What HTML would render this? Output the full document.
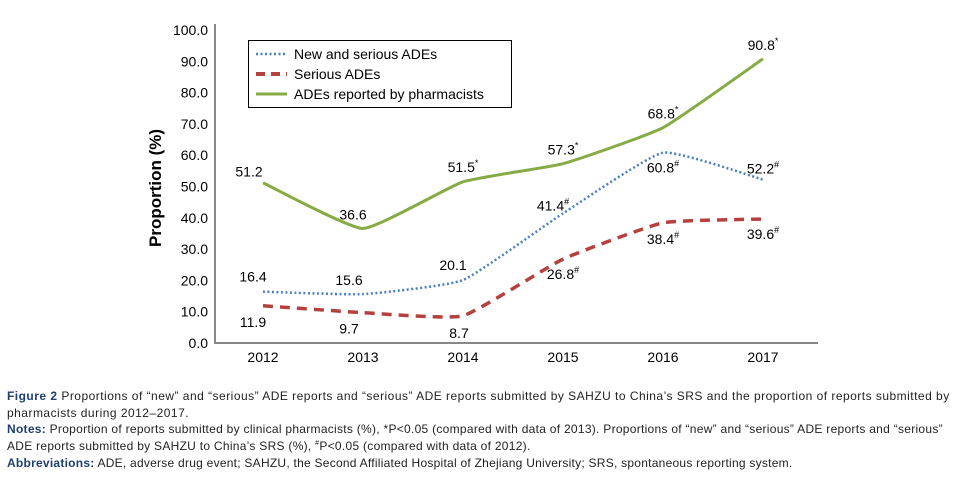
<!DOCTYPE html>
<html><head><meta charset="utf-8"><style>
body{margin:0;background:#fff;width:960px;height:478px;overflow:hidden;font-family:"Liberation Sans",sans-serif}
.cap{position:absolute;left:7px;width:950px;font-size:12px;color:#222;line-height:16.5px;white-space:nowrap;font-family:"Liberation Sans",sans-serif;letter-spacing:0.48px}
.cap b{color:#1f3f70;font-weight:bold}
</style></head><body>
<svg width="960" height="380" style="position:absolute;left:0;top:0" font-family="Liberation Sans, sans-serif">
<g id="axes"></g><g id="series"></g><g id="labels"></g>
<text transform="translate(161,188) rotate(-90)" text-anchor="middle" font-size="17" font-weight="bold" fill="#000">Proportion (%)</text>
<g>
<rect x="248.5" y="40.5" width="263" height="67" fill="#fff" stroke="#000" stroke-width="1"/>
<line x1="256" y1="54" x2="287" y2="54" stroke="#4a7fc0" stroke-width="2.5" stroke-dasharray="2,2.5"/>
<text x="294" y="59" font-size="14">New and serious ADEs</text>
<line x1="256" y1="74" x2="287" y2="74" stroke="#b5413f" stroke-width="4" stroke-dasharray="9,6"/>
<text x="294" y="79" font-size="14">Serious ADEs</text>
<line x1="256" y1="94" x2="287" y2="94" stroke="#86ab45" stroke-width="3"/>
<text x="294" y="99" font-size="14">ADEs reported by pharmacists</text>
</g>
</svg>
<div class="cap" style="top:388px"><b>Figure 2</b> Proportions of “new” and “serious” ADE reports and “serious” ADE reports submitted by SAHZU to China’s SRS and the proportion of reports submitted by<br>pharmacists during 2012–2017.</div>
<div class="cap" style="top:421px;letter-spacing:0.28px"><b>Notes:</b> Proportion of reports submitted by clinical pharmacists (%), *P&lt;0.05 (compared with data of 2013). Proportions of “new” and “serious” ADE reports and “serious”<br>ADE reports submitted by SAHZU to China’s SRS (%), <sup style="font-size:7px;line-height:0">#</sup>P&lt;0.05 (compared with data of 2012).</div>
<div class="cap" style="top:455px;letter-spacing:0.25px"><b>Abbreviations:</b> ADE, adverse drug event; SAHZU, the Second Affiliated Hospital of Zhejiang University; SRS, spontaneous reporting system.</div>
<script>
const years=["2012","2013","2014","2015","2016","2017"];
const newSerious=[16.4,15.6,20.1,41.4,60.8,52.2];
const serious=[11.9,9.7,8.7,26.8,38.4,39.6];
const pharm=[51.2,36.6,51.5,57.3,68.8,90.8];
const newMarks=["","","","#","#","#"];
const seriousMarks=["","","","#","#","#"];
const pharmMarks=["","","*","*","*","*"];
const yTicks=[0,10,20,30,40,50,60,70,80,90,100];
const NS="http://www.w3.org/2000/svg";
const X=i=>263+i*100, Y=v=>343-v*3.13;
function mk(tag,attrs,parent){const e=document.createElementNS(NS,tag);for(const k in attrs)e.setAttribute(k,attrs[k]);parent.appendChild(e);return e;}
const ax=document.getElementById('axes'),se=document.getElementById('series'),lb=document.getElementById('labels');
let a=mk('line',{x1:215,y1:24,x2:215,y2:343,stroke:'#888','stroke-width':2},ax);

a=mk('line',{x1:214,y1:343,x2:818,y2:343,stroke:'#888','stroke-width':2},ax);

yTicks.forEach(t=>{const e=mk('text',{x:208,y:Y(t)+5,'text-anchor':'end','font-size':14},ax);e.textContent=t.toFixed(1);
});
years.forEach((y,i)=>{const e=mk('text',{x:X(i),y:362,'text-anchor':'middle','font-size':14},ax);e.textContent=y;
});
function smooth(vals){const p=vals.map((v,i)=>[X(i),Y(v)]);let d=`M${p[0][0]},${p[0][1]}`;
for(let i=0;i<p.length-1;i++){const p0=p[i-1]||p[i],p1=p[i],p2=p[i+1],p3=p[i+2]||p2;const t=0.07;
d+=` C${p1[0]+(p2[0]-p0[0])*t},${p1[1]+(p2[1]-p0[1])*t} ${p2[0]-(p3[0]-p1[0])*t},${p2[1]-(p3[1]-p1[1])*t} ${p2[0]},${p2[1]}`;}return d;}
let s=mk('path',{d:smooth(pharm),fill:'none',stroke:'#86ab45','stroke-width':3},se);

s=mk('path',{d:smooth(serious),fill:'none',stroke:'#b5413f','stroke-width':3.5,'stroke-dasharray':'10,7'},se);

s=mk('path',{d:smooth(newSerious),fill:'none',stroke:'#4a7fc0','stroke-width':2.5,'stroke-dasharray':'2,2.5'},se);

function label(vals,marks,offs,name){vals.forEach((v,i)=>{const o=offs[i];const e=mk('text',{x:X(i)+o[0],y:Y(v)+o[1],'text-anchor':'middle','font-size':14},lb);
e.textContent=v.toFixed(1);if(marks[i]){const sp=mk('tspan',{'font-size':9,dy:-6},e);sp.textContent=marks[i];}
});}
label(pharm,pharmMarks,[[-14,-6],[-10,-9],[0,-10],[0,-9],[0,-9],[0,-9]],'pharmacists-value-label');
label(newSerious,newMarks,[[-10,-10],[-14,-9],[-10,-10],[-10,-3],[0,20],[0,-6]],'new-serious-value-label');
label(serious,seriousMarks,[[-10,21],[-14,21],[-4,22],[0,20],[0,21],[0,20]],'serious-value-label');
</script>
</body></html>
